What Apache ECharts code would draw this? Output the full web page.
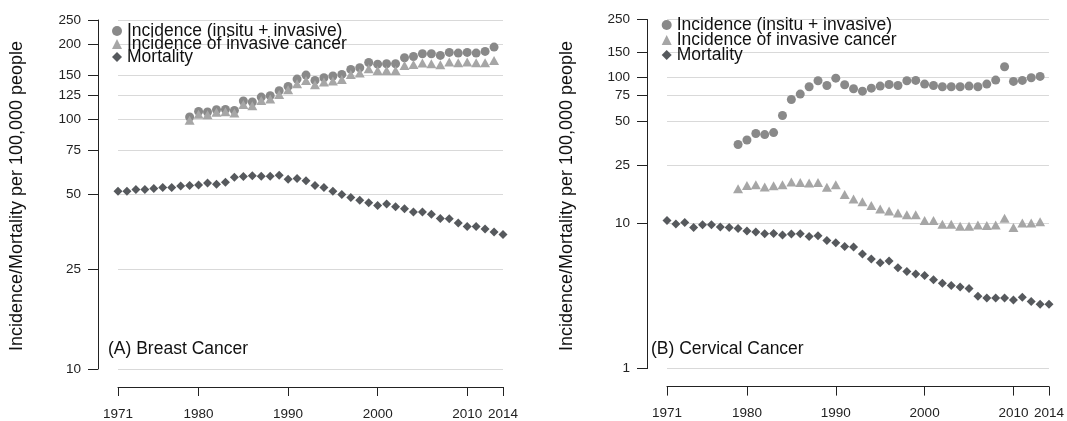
<!DOCTYPE html>
<html><head><meta charset="utf-8">
<script src="https://cdn.jsdelivr.net/npm/echarts@6/dist/echarts.min.js"></script>
<style>html,body{margin:0;padding:0;background:#fff}#c{width:1067px;height:421px}</style>
</head><body><div id="c"></div>
<script>
const seriesNames = ['Incidence (insitu + invasive)', 'Incidence of invasive cancer', 'Mortality'];
const yearsAll = [1971,1972,1973,1974,1975,1976,1977,1978,1979,1980,1981,1982,1983,1984,1985,1986,1987,1988,1989,1990,1991,1992,1993,1994,1995,1996,1997,1998,1999,2000,2001,2002,2003,2004,2005,2006,2007,2008,2009,2010,2011,2012,2013,2014];
const yearsInc = [1979,1980,1981,1982,1983,1984,1985,1986,1987,1988,1989,1990,1991,1992,1993,1994,1995,1996,1997,1998,1999,2000,2001,2002,2003,2004,2005,2006,2007,2008,2009,2010,2011,2012,2013];

const breastTotal = [102.2,107.6,107.0,109.3,109.6,108.6,118.4,117.3,122.8,124.4,130.2,135.5,145.0,150.4,143.2,146.8,149.1,151.4,158.5,161.0,169.0,166.4,167.0,167.0,176.5,178.6,183.1,183.1,180.3,185.4,184.2,185.4,184.2,187.1,194.7];
const breastInvasive = [99.1,104.7,104.4,106.7,107.3,106.0,114.8,113.4,119.1,120.6,125.9,131.4,138.9,143.2,137.6,141.0,142.3,144.5,151.4,153.2,159.5,157.0,157.0,157.0,164.4,166.0,168.0,167.0,165.5,169.6,168.5,169.6,168.5,168.5,172.2];
const breastMortality = [51.5,51.5,52.3,52.3,52.8,53.3,53.3,54.1,54.3,54.6,55.6,55.0,56.0,58.6,59.0,59.5,59.2,59.2,59.7,57.5,58.0,56.7,54.3,53.3,51.5,50.0,48.6,47.4,46.3,45.2,45.8,44.7,43.8,42.5,42.5,41.7,40.1,40.0,38.4,37.2,37.2,36.4,35.4,34.6];

const cervTotal = [34.6,37.2,41.2,40.5,41.8,54.8,70.6,76.8,86.3,94.9,88.1,98.9,89.0,83.6,80.5,84.4,87.2,89.5,88.1,94.9,95.4,90.0,88.1,86.3,86.3,86.3,87.2,86.3,90.0,95.9,118.4,93.9,95.4,99.5,101.6];
const cervInvasive = [17.2,18.1,18.3,17.7,18.0,18.3,19.1,19.0,18.8,19.0,17.6,18.3,15.7,14.6,14.0,13.2,12.5,12.1,11.7,11.4,11.4,10.4,10.4,9.8,9.8,9.5,9.5,9.7,9.6,9.7,10.8,9.3,10.0,10.0,10.2];
const cervMortality = [10.4,9.84,10.1,9.33,9.73,9.73,9.39,9.33,9.18,8.81,8.67,8.44,8.48,8.27,8.40,8.44,8.09,8.18,7.59,7.32,6.90,6.84,6.12,5.65,5.33,5.48,4.93,4.65,4.46,4.36,4.07,3.86,3.72,3.64,3.55,3.14,3.06,3.06,3.06,2.96,3.09,2.89,2.77,2.77];

const xTicks = [1971,1980,1990,2000,2010,2014];
const yTicksBreast = [10,25,50,75,100,125,150,200,250];
const yTicksCervical = [1,10,25,50,75,100,150,250];
const yTitle = 'Incidence/Mortality per 100,000 people';
const panelTitles = ['(A) Breast Cancer', '(B) Cervical Cancer'];

const FONT = '"Liberation Sans", Arial, Helvetica, sans-serif';
const colors = ['#898989', '#a6a6a6', '#56595d'];
const symbols = ['circle', 'triangle', 'diamond'];
const symbolSizes = [9, [10, 9], 9];

function pairs(xs, ys) { return xs.map((x, i) => [x, ys[i]]); }

function xAxisCfg(gi) {
  return {
    type: 'value', gridIndex: gi, min: 1971, max: 2014, offset: 18,
    axisLine: { show: true, onZero: false, lineStyle: { color: '#222', width: 1 } },
    axisTick: { show: true, length: 9, customValues: xTicks, lineStyle: { color: '#222' } },
    axisLabel: { customValues: xTicks, margin: 20, fontSize: 13.5, color: '#222', fontFamily: FONT,
      formatter: v => String(Math.round(v)) },
    splitLine: { show: false }
  };
}
function yAxisCfg(gi, min, max, ticks) {
  return {
    type: 'log', logBase: 10, gridIndex: gi, min: min, max: max, offset: 20,
    axisLine: { show: true, onZero: false, lineStyle: { color: '#222', width: 1 } },
    axisTick: { show: true, length: 10, customValues: ticks, lineStyle: { color: '#222' } },
    axisLabel: { customValues: ticks, margin: 17, fontSize: 13.5, color: '#222', fontFamily: FONT,
      formatter: v => String(Math.round(v)) },
    splitLine: { show: true, lineStyle: { color: '#d9d9d9', width: 1 } },
    minorTick: { show: false }, minorSplitLine: { show: false }
  };
}
function mkSeries(gi, data3) {
  return data3.map((d, k) => ({
    name: seriesNames[k], type: 'scatter', xAxisIndex: gi, yAxisIndex: gi,
    symbol: symbols[k], symbolSize: symbolSizes[k],
    itemStyle: { color: colors[k], opacity: 1 },
    data: d, z: 2 + k, silent: true
  }));
}
function legendItem(k, left, centerY) {
  return {
    orient: 'vertical', left: left, top: centerY - 7, padding: 0, itemGap: 0,
    itemWidth: 10, itemHeight: 10, selectedMode: false,
    data: [{ name: seriesNames[k], icon: symbols[k] }],
    textStyle: { fontSize: 17.5, fontFamily: FONT, color: '#111', lineHeight: 14 }
  };
}

const chart = echarts.init(document.getElementById('c'), null, { renderer: 'canvas' });
chart.setOption({
  animation: false,
  backgroundColor: '#fff',
  grid: [
    { left: 118, right: 564, top: 20, bottom: 52 },
    { left: 667, right: 16, top: 19.5, bottom: 52.4 }
  ],
  xAxis: [xAxisCfg(0), xAxisCfg(1)],
  yAxis: [yAxisCfg(0, 10, 250, yTicksBreast), yAxisCfg(1, 1, 250, yTicksCervical)],
  legend: [
    legendItem(0, 112, 29), legendItem(1, 112, 42), legendItem(2, 112, 55),
    legendItem(0, 661.7, 23), legendItem(1, 661.7, 38), legendItem(2, 661.7, 53)
  ],
  series: [].concat(
    mkSeries(0, [pairs(yearsInc, breastTotal), pairs(yearsInc, breastInvasive), pairs(yearsAll, breastMortality)]),
    mkSeries(1, [pairs(yearsInc, cervTotal), pairs(yearsInc, cervInvasive), pairs(yearsAll, cervMortality)])
  ),
  graphic: [
    { type: 'text', x: 17, y: 196, rotation: Math.PI / 2,
      style: { text: yTitle, fontSize: 18, fontFamily: FONT, fill: '#111', align: 'center', verticalAlign: 'middle' } },
    { type: 'text', x: 567, y: 196, rotation: Math.PI / 2,
      style: { text: yTitle, fontSize: 18, fontFamily: FONT, fill: '#111', align: 'center', verticalAlign: 'middle' } },
    { type: 'text', x: 108, y: 349,
      style: { text: panelTitles[0], fontSize: 17.5, fontFamily: FONT, fill: '#111', align: 'left', verticalAlign: 'middle' } },
    { type: 'text', x: 651, y: 349,
      style: { text: panelTitles[1], fontSize: 17.5, fontFamily: FONT, fill: '#111', align: 'left', verticalAlign: 'middle' } }
  ]
});
</script></body></html>
